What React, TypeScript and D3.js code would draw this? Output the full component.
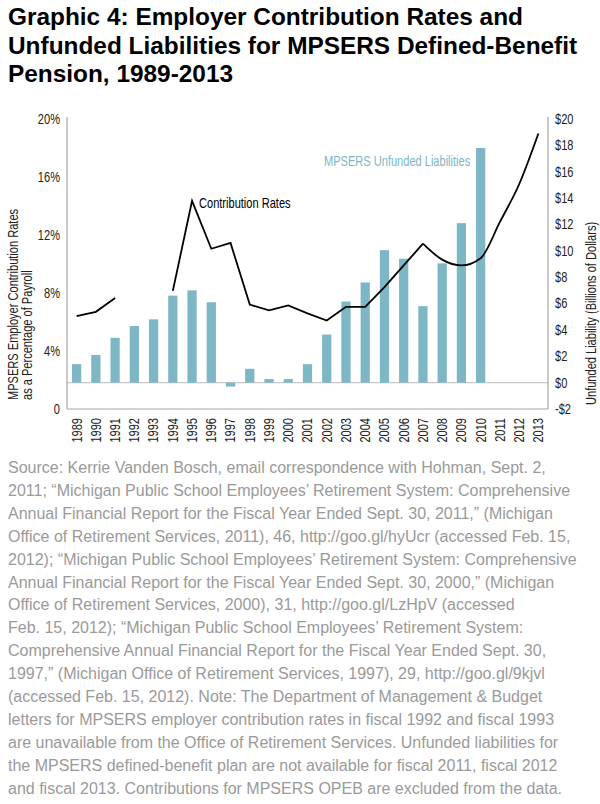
import React from "react";
import * as d3 from "d3";

const years = ["1989","1990","1991","1992","1993","1994","1995","1996","1997","1998","1999","2000","2001","2002","2003","2004","2005","2006","2007","2008","2009","2010","2011","2012","2013"];
// Unfunded liabilities, billions of dollars (right axis)
const liabilities: (number | null)[] = [1.4, 2.1, 3.4, 4.3, 4.8, 6.6, 7.0, 6.1, -0.3, 1.05, 0.27, 0.27, 1.4, 3.65, 6.15, 7.6, 10.05, 9.4, 5.8, 9.05, 12.1, 17.8, null, null, null];
// Employer contribution rates, % of payroll (left axis)
const rates: (number | null)[] = [6.4, 6.7, 7.65, null, null, 8.15, 14.35, 11.05, 11.45, 7.2, 6.8, 7.15, 6.6, 6.1, 7.05, 7.05, 8.4, 9.9, 11.4, 10.3, 9.9, 10.4, 12.9, 15.5, 19.0];
const leftTicks = [0, 4, 8, 12, 16, 20];
const rightTicks = [-2, 0, 2, 4, 6, 8, 10, 12, 14, 16, 18, 20];

const titleLines = [
  "Graphic 4: Employer Contribution Rates and",
  "Unfunded Liabilities for MPSERS Defined-Benefit",
  "Pension, 1989-2013",
];
const sourceLines = [
  "Source: Kerrie Vanden Bosch, email correspondence with Hohman, Sept. 2,",
  "2011; \u201CMichigan Public School Employees\u2019 Retirement System: Comprehensive",
  "Annual Financial Report for the Fiscal Year Ended Sept. 30, 2011,\u201D (Michigan",
  "Office of Retirement Services, 2011), 46, http://goo.gl/hyUcr (accessed Feb. 15,",
  "2012); \u201CMichigan Public School Employees\u2019 Retirement System: Comprehensive",
  "Annual Financial Report for the Fiscal Year Ended Sept. 30, 2000,\u201D (Michigan",
  "Office of Retirement Services, 2000), 31, http://goo.gl/LzHpV (accessed",
  "Feb. 15, 2012); \u201CMichigan Public School Employees\u2019 Retirement System:",
  "Comprehensive Annual Financial Report for the Fiscal Year Ended Sept. 30,",
  "1997,\u201D (Michigan Office of Retirement Services, 1997), 29, http://goo.gl/9kjvl",
  "(accessed Feb. 15, 2012). Note: The Department of Management & Budget",
  "letters for MPSERS employer contribution rates in fiscal 1992 and fiscal 1993",
  "are unavailable from the Office of Retirement Services. Unfunded liabilities for",
  "the MPSERS defined-benefit plan are not available for fiscal 2011, fiscal 2012",
  "and fiscal 2013. Contributions for MPSERS OPEB are excluded from the data.",
];

const W = 600;
const H = 804;
const plotLeft = 67;
const plotRight = 548;
const plotTop = 119;
const plotBottom = 409;

const sans = "'Liberation Sans', Arial, sans-serif";
const barColor = "#7DB6C5";
const FS = 14;
const SX = 0.79;

function NText(props: { x: number; y: number; rotate?: boolean; anchor?: string; dy?: string; fill?: string; children: React.ReactNode }) {
  const { x, y, rotate, anchor, dy, fill, children } = props;
  return (
    <text
      transform={`translate(${x},${y})${rotate ? " rotate(-90)" : ""} scale(${SX},1)`}
      dy={dy}
      textAnchor={anchor || "start"}
      fontFamily={sans}
      fontSize={FS}
      fill={fill || "#222"}
    >
      {children}
    </text>
  );
}

export default function App() {
  React.useEffect(() => {
    document.body.style.margin = "0";
  }, []);

  const x = d3.scaleBand<string>().domain(years).range([plotLeft, plotRight]).paddingInner(0.52).paddingOuter(0.26);
  const yL = d3.scaleLinear().domain([0, 20]).range([plotBottom, plotTop]);
  const yR = d3.scaleLinear().domain([-2, 20]).range([plotBottom, plotTop]);
  const cx = (i: number) => (x(years[i]) as number) + x.bandwidth() / 2;

  const pts = rates.map((r, i) => ({ i, r }));
  const seg1 = pts.filter((p) => p.r !== null && p.i <= 2);
  const seg2 = pts.filter((p) => p.r !== null && p.i >= 5 && p.i <= 18);
  const seg3 = pts.filter((p) => p.r !== null && p.i >= 18);
  const lin = d3.line<{ i: number; r: number | null }>().x((p) => cx(p.i)).y((p) => yL(p.r as number));
  const smooth = d3.line<{ i: number; r: number | null }>().x((p) => cx(p.i)).y((p) => yL(p.r as number)).curve(d3.curveMonotoneX);

  return (
    <svg width={W} height={H} style={{ position: "absolute", left: 0, top: 0, background: "#fff" }}>
      {titleLines.map((t, i) => (
        <text key={t} x={8} y={25 + i * 28.5} fontFamily={sans} fontWeight="bold" fontSize={24.4} fill="#000">{t}</text>
      ))}

      {/* zero line */}
      <line x1={plotLeft} x2={plotRight} y1={yR(0)} y2={yR(0)} stroke="#c8c8c8" strokeWidth={1.2} />

      {/* bars */}
      {liabilities.map((v, i) =>
        v === null ? null : (
          <rect key={years[i]} x={x(years[i])} width={x.bandwidth()} y={Math.min(yR(v), yR(0))} height={Math.abs(yR(v) - yR(0))} fill={barColor} />
        )
      )}

      {/* axes */}
      <line x1={plotLeft} x2={plotLeft} y1={plotTop - 2} y2={plotBottom} stroke="#a6a6a6" strokeWidth={1.2} />
      <line x1={plotRight} x2={plotRight} y1={plotTop - 2} y2={plotBottom} stroke="#a6a6a6" strokeWidth={1.2} />
      <line x1={plotLeft} x2={plotRight} y1={plotBottom} y2={plotBottom} stroke="#a6a6a6" strokeWidth={1.2} />

      {/* rate line */}
      <path d={lin(seg1) || ""} fill="none" stroke="#000" strokeWidth={1.8} />
      <path d={lin(seg2) || ""} fill="none" stroke="#000" strokeWidth={1.8} />
      <path d={smooth(seg3) || ""} fill="none" stroke="#000" strokeWidth={1.8} />

      {/* left ticks */}
      {leftTicks.map((t) => (
        <NText key={"l" + t} x={60} y={yL(t)} dy="0.35em" anchor="end">{t === 0 ? "0" : t + "%"}</NText>
      ))}
      {/* right ticks */}
      {rightTicks.map((t) => (
        <NText key={"r" + t} x={555} y={yR(t)} dy="0.35em">{(t < 0 ? "-$" : "$") + Math.abs(t)}</NText>
      ))}
      {/* x labels */}
      {years.map((yv, i) => (
        <NText key={"x" + yv} x={cx(i)} y={plotBottom + 9} rotate dy="0.35em" anchor="end">{yv}</NText>
      ))}

      {/* axis titles */}
      <NText x={18} y={400} rotate>MPSERS Employer Contribution Rates</NText>
      <NText x={32} y={400} rotate>as a Percentage of Payroll</NText>
      <NText x={596} y={405} rotate>Unfunded Liability (Billions of Dollars)</NText>

      {/* series labels */}
      <NText x={199} y={208} fill="#000">Contribution Rates</NText>
      <NText x={324} y={166} fill={barColor}>MPSERS Unfunded Liabilities</NText>

      {/* source */}
      {sourceLines.map((s, i) => (
        <text key={"s" + i} x={8} y={473 + i * 22.9} fontFamily={sans} fontSize={16} fill="#9a9a9a">{s}</text>
      ))}
    </svg>
  );
}
